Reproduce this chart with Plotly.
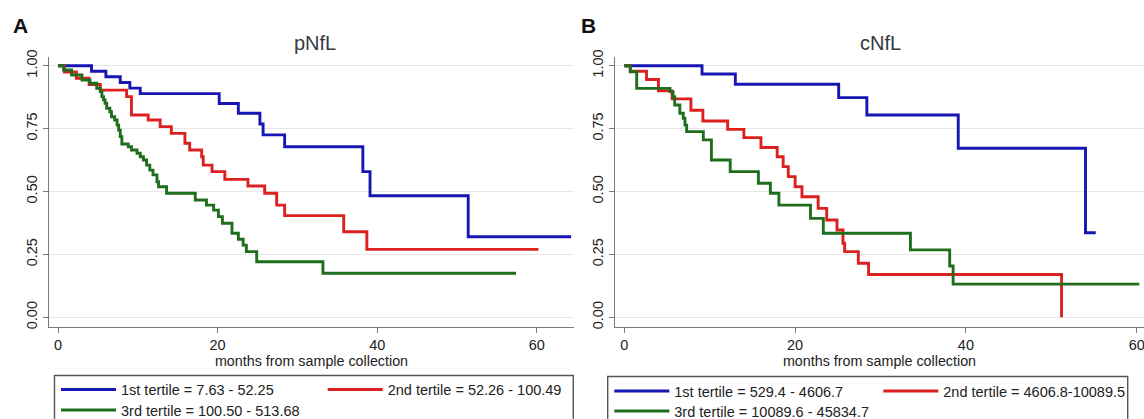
import plotly.graph_objects as go

W, H = 1144, 419

# ---------------- data ----------------
tertile_labels_A = ["1st tertile = 7.63 - 52.25", "2nd tertile = 52.26 - 100.49", "3rd tertile = 100.50 - 513.68"]
tertile_labels_B = ["1st tertile = 529.4 - 4606.7", "2nd tertile = 4606.8-10089.5", "3rd tertile = 10089.6 - 45834.7"]

A_blue_t = [0, 4.2, 6.0, 7.8, 9.0, 10.3, 20.2, 22.6, 25.3, 25.7, 28.4, 38.2, 39.1, 51.4, 64.3]
A_blue_s = [1.0, 0.978, 0.956, 0.933, 0.911, 0.889, 0.85, 0.811, 0.768, 0.725, 0.678, 0.579, 0.483, 0.32, 0.32]

A_red_t = [0, 0.8, 2.3, 3.9, 5.3, 8.6, 9.2, 11.3, 12.8, 14.2, 15.9, 16.5, 18.0, 18.2, 19.3, 20.9, 23.8, 25.9, 27.4, 28.4, 35.8, 38.7, 60.2]
A_red_s = [1.0, 0.975, 0.95, 0.925, 0.903, 0.877, 0.804, 0.784, 0.758, 0.731, 0.692, 0.665, 0.638, 0.605, 0.579, 0.548, 0.522, 0.493, 0.446, 0.404, 0.34, 0.27, 0.27]

A_green_t = [0, 0.7, 1.7, 3.0, 4.0, 4.85, 5.3, 5.5, 5.7, 5.9, 6.1, 6.5, 6.7, 7.1, 7.4, 7.6, 7.8, 8.0, 8.8, 9.2,
             9.9, 10.3, 10.7, 11.1, 11.5, 11.9, 12.4, 12.6, 13.6, 17.2, 18.6, 19.5, 20.1, 20.6, 21.8, 22.6, 23.2, 23.6, 24.9, 33.2, 57.4]
A_green_s = [1.0, 0.983, 0.963, 0.943, 0.93, 0.91, 0.897, 0.877, 0.864, 0.851, 0.831, 0.817, 0.797, 0.784, 0.764, 0.744, 0.718, 0.689, 0.678, 0.665,
             0.652, 0.638, 0.625, 0.605, 0.585, 0.566, 0.539, 0.519, 0.493, 0.466, 0.446, 0.426, 0.40, 0.374, 0.334, 0.31, 0.287, 0.261, 0.221, 0.175, 0.175]

B_blue_t = [0, 9.1, 13.0, 25.1, 28.4, 39.1, 54.0, 55.2]
B_blue_s = [1.0, 0.967, 0.926, 0.873, 0.804, 0.672, 0.336, 0.336]

B_red_t = [0, 0.7, 2.6, 4.0, 5.6, 7.8, 9.2, 12.1, 14.0, 16.0, 17.9, 18.6, 19.2, 20.0, 20.8, 22.7, 23.7, 24.9, 25.6, 25.8, 27.4, 28.6, 51.2]
B_red_s = [1.0, 0.978, 0.945, 0.90, 0.868, 0.823, 0.78, 0.747, 0.714, 0.675, 0.638, 0.599, 0.559, 0.519, 0.479, 0.433, 0.387, 0.347, 0.294, 0.261, 0.215, 0.17, 0.0]

B_green_t = [0, 0.7, 1.45, 5.35, 5.7, 5.9, 6.5, 6.9, 7.1, 7.3, 9.25, 10.2, 12.4, 15.7, 17.1, 18.1, 21.8, 23.3, 33.5, 38.1, 38.5, 60.3]
B_green_s = [1.0, 0.976, 0.91, 0.897, 0.877, 0.844, 0.811, 0.791, 0.764, 0.738, 0.705, 0.625, 0.579, 0.533, 0.493, 0.446, 0.393, 0.334, 0.268, 0.204, 0.132, 0.132]

x_ticks = [0, 20, 40, 60]
y_ticks = [0.0, 0.25, 0.5, 0.75, 1.0]
panel_titles = ["pNfL", "cNfL"]
panel_letters = ["A", "B"]
x_title = "months from sample collection"

# ---------------- styling ----------------
BLUE, RED, GREEN = "#1616b4", "#dc2020", "#1e6e1e"
FONT = "Arial, Liberation Sans, sans-serif"
LW = 2.9

def px_x(p):
    return p / W

def px_y(p):
    return 1 - p / H

fig = go.Figure()

series = [
    ("x", "y", A_blue_t, A_blue_s, BLUE, tertile_labels_A[0], "legend"),
    ("x", "y", A_red_t, A_red_s, RED, tertile_labels_A[1], "legend2"),
    ("x", "y", A_green_t, A_green_s, GREEN, tertile_labels_A[2], "legend3"),
    ("x2", "y2", B_blue_t, B_blue_s, BLUE, tertile_labels_B[0], "legend4"),
    ("x2", "y2", B_red_t, B_red_s, RED, tertile_labels_B[1], "legend5"),
    ("x2", "y2", B_green_t, B_green_s, GREEN, tertile_labels_B[2], "legend6"),
]
for xa, ya, t, s, c, name, lg in series:
    fig.add_trace(go.Scatter(x=t, y=s, mode="lines", line=dict(color=c, width=LW, shape="hv"),
                             name=name, xaxis=xa, yaxis=ya, legend=lg, showlegend=True, hoverinfo="skip"))

ydom = [px_y(326.7), px_y(57)]
axis_common = dict(showline=True, linecolor="#7a7a7a", linewidth=1.3, ticks="outside", ticklen=5,
                   tickcolor="#7a7a7a", tickwidth=1.2, zeroline=False, ticklabeloverflow="allow",
                   tickfont=dict(family=FONT, size=14.5, color="#222222"))
xcommon = dict(axis_common, showgrid=False, tickvals=x_ticks,
               title=dict(text=x_title, font=dict(family=FONT, size=14.3, color="#222222"), standoff=2))
ycommon = dict(axis_common, showgrid=True, gridcolor="#e6e6e6", gridwidth=1, tickvals=y_ticks,
               tickformat=".2f", tickangle=-90, range=[-0.0374, 1.0346])

fig.update_layout(
    width=W, height=H, margin=dict(l=0, r=0, t=0, b=0, autoexpand=False),
    paper_bgcolor="white", plot_bgcolor="white", showlegend=True,
    xaxis=dict(xcommon, domain=[px_x(49), px_x(574)], range=[-1.13, 64.66], anchor="y"),
    yaxis=dict(ycommon, domain=ydom, anchor="x"),
    xaxis2=dict(xcommon, domain=[px_x(615), 1.0], range=[-1.09, 60.85], anchor="y2"),
    yaxis2=dict(ycommon, domain=ydom, anchor="x2"),
    font=dict(family=FONT),
)

# legends: one entry each, placed like the two-column Stata legend
leg_pos = {
    "legend": (56, 389.5), "legend2": (322.7, 389.5), "legend3": (56, 410),
    "legend4": (609.3, 391), "legend5": (878.3, 391), "legend6": (609.3, 411),
}
for key, (lx, ly) in leg_pos.items():
    fig.update_layout({key: dict(x=px_x(lx), y=px_y(ly), xanchor="left", yanchor="middle",
                                 bgcolor="rgba(0,0,0,0)", borderwidth=0, itemwidth=55,
                                 font=dict(family=FONT, size=14.5, color="#222222"))})

# legend frames
for x0, x1, y0 in [(54.5, 573.3, 375.5), (607.7, 1127.7, 376.5)]:
    fig.add_shape(type="rect", xref="paper", yref="paper", x0=px_x(x0), x1=px_x(x1),
                  y0=px_y(y0), y1=px_y(440), line=dict(color="#555555", width=1.4), fillcolor="rgba(0,0,0,0)")

# panel titles and letters
for txt, cx in zip(panel_titles, [314.7, 880.8]):
    fig.add_annotation(text=txt, x=px_x(cx), y=px_y(43), xref="paper", yref="paper",
                       showarrow=False, xanchor="center", yanchor="middle",
                       font=dict(family=FONT, size=20, color="#333a44"))
for txt, cx in zip(panel_letters, [20, 588.3]):
    fig.add_annotation(text="<b>" + txt + "</b>", x=px_x(cx), y=px_y(26), xref="paper", yref="paper",
                       showarrow=False, xanchor="center", yanchor="middle",
                       font=dict(family=FONT, size=21, color="#111111"))

fig.write_html("out.html")
